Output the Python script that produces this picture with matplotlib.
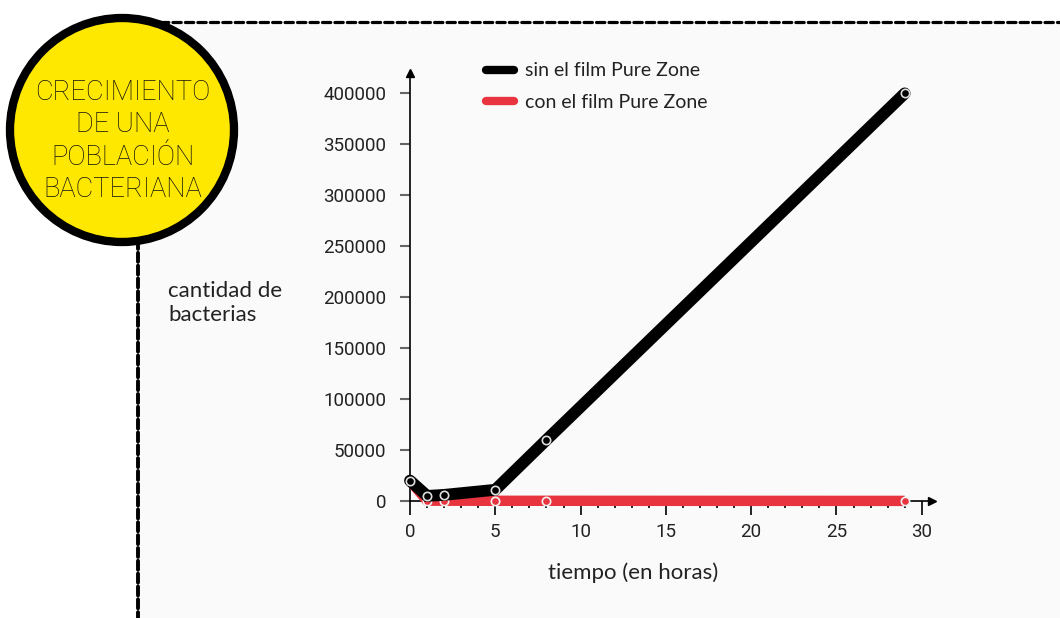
import matplotlib.pyplot as plt
from matplotlib.lines import Line2D
from matplotlib.patches import Circle, Rectangle
from matplotlib.ticker import MultipleLocator

# datos
horas = [0, 1, 2, 5, 8, 29]
sin_film = [20000, 5000, 6000, 11000, 60000, 400000]
con_film = [20000, 300, 300, 200, 200, 100]
etiquetas = ["sin el film Pure Zone", "con el film Pure Zone"]
titulo = "CRECIMIENTO\nDE UNA\nPOBLACIÓN\nBACTERIANA"

negro = "#000000"
rojo = "#E8343E"
amarillo = "#FFE800"

W, H = 1060, 618
fig = plt.figure(figsize=(W / 100, H / 100), dpi=100)
fig.patch.set_facecolor("white")

# capa de fondo en pixeles
bg = fig.add_axes([0, 0, 1, 1])
bg.set_xlim(0, W)
bg.set_ylim(H, 0)
bg.axis("off")
bg.add_patch(Rectangle((138, 22), W - 138, H - 22, facecolor="#fafafa", edgecolor="none", zorder=0))
bg.plot([160, W], [22, 22], color="black", lw=2.3, ls=(0, (2.6, 1.3)), dash_capstyle="round", zorder=1)
bg.plot([138, 138], [240, H], color="black", lw=2.8, ls=(0, (2.3, 1.0)), dash_capstyle="round", zorder=1)
bg.add_patch(Circle((122, 130), 112, facecolor=amarillo, edgecolor="black", lw=6, zorder=2))
bg.text(123, 141, titulo, ha="center", va="center", fontsize=19.6, family="Roboto",
        fontweight="light", linespacing=1.25, color="#111111", zorder=3)
bg.text(168, 303, "cantidad de\nbacterias", ha="left", va="center", fontsize=16,
        family="Lato", color="#222222", linespacing=1.25)

# grafico principal
ax = fig.add_axes([410 / W, (H - 501) / H, 522 / W, 428 / H])
ax.set_facecolor("none")
ax.set_xlim(0, 30.6)
ax.set_ylim(0, 420000)

ax.plot(horas, con_film, color=rojo, lw=7.5, solid_capstyle="butt", zorder=3, clip_on=False,
        marker="o", ms=6, mfc=rojo, mec="#f2f2f2", mew=1.2)
ax.plot(horas, sin_film, color=negro, lw=8.5, solid_capstyle="round", solid_joinstyle="miter",
        zorder=4, clip_on=False, marker="o", ms=6, mfc=negro, mec="#dddddd", mew=1.2)

for s in ["top", "right"]:
    ax.spines[s].set_visible(False)
for s in ["left", "bottom"]:
    ax.spines[s].set_linewidth(1.2)
    ax.spines[s].set_zorder(2)
ax.plot(1, 0, ">", color="black", ms=6, transform=ax.transAxes, clip_on=False)
ax.plot(0, 1, "^", color="black", ms=6, transform=ax.transAxes, clip_on=False)

ax.set_xticks(range(0, 31, 5))
ax.xaxis.set_minor_locator(MultipleLocator(1))
ax.set_yticks(range(0, 400001, 50000))
ax.tick_params(axis="x", which="major", length=10, width=1.2, color="black", labelsize=13.5, pad=6)
ax.tick_params(axis="x", which="minor", length=5, width=1.2, color="black")
ax.tick_params(axis="y", length=7, width=1.5, color="#666666", labelsize=13.5, pad=10)
for lab in ax.get_xticklabels() + ax.get_yticklabels():
    lab.set_family("Roboto")
    lab.set_color("#222222")

bg.text(633, 573, "tiempo (en horas)", ha="center", va="center", fontsize=16,
        family="Lato", color="#222222")

handles = [Line2D([], [], color=negro, lw=6, solid_capstyle="round"),
           Line2D([], [], color=rojo, lw=6, solid_capstyle="round")]
leg = fig.legend(handles, etiquetas, loc="upper left", bbox_to_anchor=(468 / W, 1 - 45 / H),
                 frameon=False, handlelength=1.45, handletextpad=0.6, labelspacing=0.75,
                 prop={"family": "Lato", "size": 14})
for t in leg.get_texts():
    t.set_color("#222222")

fig.savefig("out.png", dpi=100)
